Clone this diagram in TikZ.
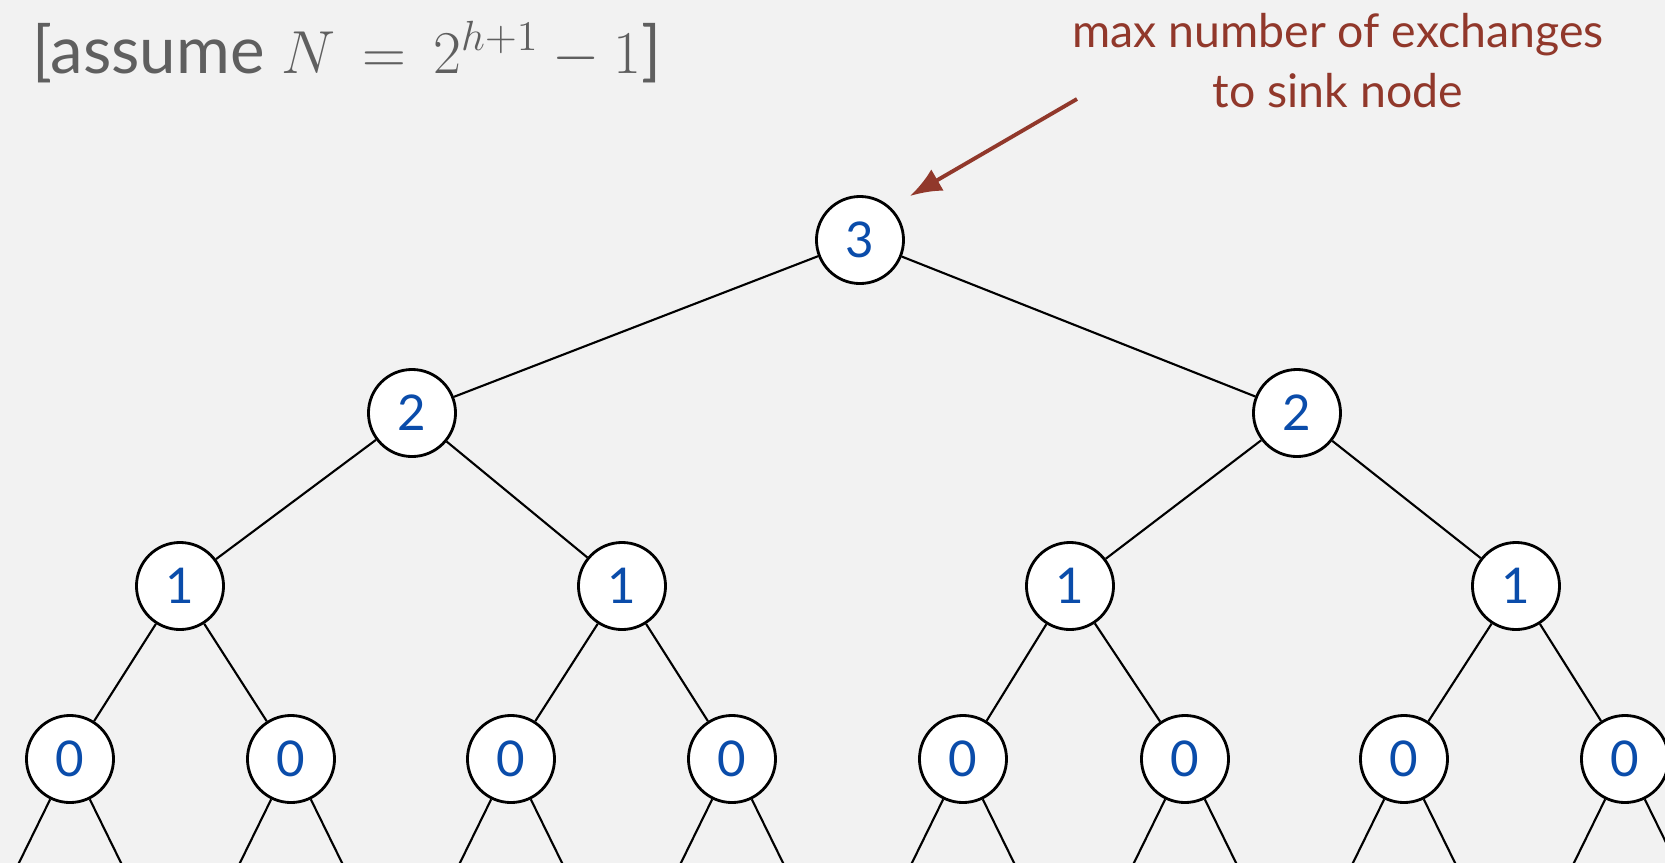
\documentclass[tikz,border=0pt]{standalone}
\usepackage{fontspec}
\setmainfont{Lato}
\usetikzlibrary{arrows.meta}
\definecolor{bg}{RGB}{242,242,242}
\definecolor{note}{RGB}{145,56,43}
\definecolor{key}{RGB}{10,76,170}
\definecolor{txt}{RGB}{95,95,95}
\tikzset{>=latex}
\tikzstyle{heap} = [circle, draw=black, fill=white, line width=0.8pt, minimum size=0.87cm, inner sep=0pt, text=key, font=\fontsize{14}{16}\selectfont]
\tikzstyle{link} = [-, draw=black, line width=0.6pt]

\begin{document}
\begin{tikzpicture}[x=0.01cm, y=-0.01cm]
 \fill [bg] (0,0) rectangle (1665,863);
 \useasboundingbox (0,0) rectangle (1665,863);
 \clip (0,0) rectangle (1665,863);
 \node [anchor=base west, inner sep=0pt, text=txt, font=\fontsize{18.6}{22}\selectfont] (title) at (32,73) {[assume $N\,=\,2^{h+1} - 1$]};
 \node [anchor=base, inner sep=0pt, text=note, align=center, font=\fontsize{13.2}{17}\selectfont] (msg) at (1338,107) {max number of exchanges\\to sink node};
 \node [heap] (r) at (860,240) {3};
 \node [heap] (a) at (412,413) {2};
 \node [heap] (b) at (1297,413) {2};
 \node [heap] (a1) at (180,586) {1};
 \node [heap] (a2) at (622,586) {1};
 \node [heap] (b1) at (1070,586) {1};
 \node [heap] (b2) at (1516,586) {1};
 \draw [link] (r) to (a);
 \draw [link] (r) to (b);
 \draw [link] (a) to (a1);
 \draw [link] (a) to (a2);
 \draw [link] (b) to (b1);
 \draw [link] (b) to (b2);
 \foreach \n/\p/\x in {a11/a1/70, a12/a1/291, a21/a2/511, a22/a2/732, b11/b1/963, b12/b1/1185, b21/b2/1404, b22/b2/1625} {
  \node [heap] (\n) at (\x,759) {0};
  \coordinate (\n-l) at (\x-85,932);
  \coordinate (\n-r) at (\x+85,932);
  \draw [link] (\p) to (\n);
  \draw [link] (\n) to (\n-l);
  \draw [link] (\n) to (\n-r);
 }
 \coordinate (from) at (1077,99);
 \coordinate (tip) at (910,196);
 \draw [-{Latex[length=9pt, width=7pt]}, draw=note, fill=note, line width=1.1pt] (from) to (tip);
\end{tikzpicture}
\end{document}
